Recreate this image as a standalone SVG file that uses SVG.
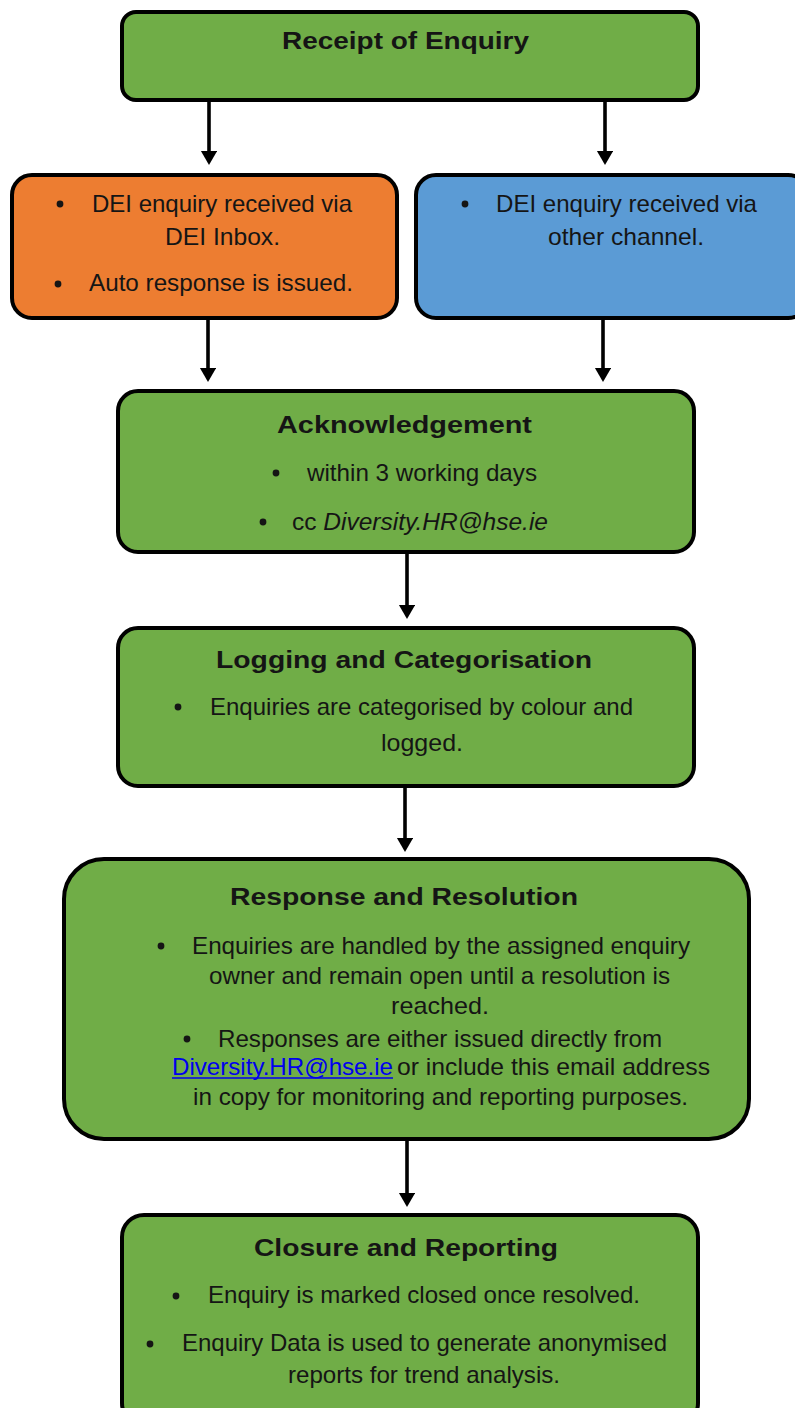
<svg xmlns="http://www.w3.org/2000/svg" width="795" height="1408" viewBox="0 0 795 1408">
<style>
.box{stroke:#000;stroke-width:4}
.g{fill:#70AD47}.o{fill:#ED7D31}.b{fill:#5B9BD5}
text{font-family:"Liberation Sans",Arial,sans-serif;fill:#151515;font-size:24px}
.t{font-weight:bold;font-size:23px}
.conn line{stroke:#000;stroke-width:3.6}
</style>
<defs>
<marker id="ah" markerWidth="5" markerHeight="5" refX="2.6" refY="2.3" orient="auto" markerUnits="strokeWidth">
<path d="M0,0 L4,2.3 L0,4.6 Z" fill="#000"/>
</marker>
</defs>
<rect width="795" height="1408" fill="#fff"/>
<g class="conn">
<line x1="209" y1="100" x2="209" y2="160" marker-end="url(#ah)"/>
<line x1="605" y1="100" x2="605" y2="160" marker-end="url(#ah)"/>
<line x1="208" y1="320" x2="208" y2="377" marker-end="url(#ah)"/>
<line x1="603" y1="320" x2="603" y2="377" marker-end="url(#ah)"/>
<line x1="407" y1="553" x2="407" y2="614" marker-end="url(#ah)"/>
<line x1="405" y1="787" x2="405" y2="847" marker-end="url(#ah)"/>
<line x1="407" y1="1140" x2="407" y2="1202" marker-end="url(#ah)"/>
</g>
<g id="receipt">
<rect class="box g" x="122" y="12" width="576" height="88" rx="14"/>
<text class="t" x="282" y="49" textLength="247" lengthAdjust="spacingAndGlyphs">Receipt of Enquiry</text>
</g>
<g id="inbox">
<rect class="box o" x="12" y="175" width="385" height="143" rx="20"/>
<circle cx="60" cy="204" r="3.4" fill="#151515"/>
<text x="92" y="212" textLength="260" lengthAdjust="spacingAndGlyphs">DEI enquiry received via</text>
<text x="165" y="245" textLength="115" lengthAdjust="spacingAndGlyphs">DEI Inbox.</text>
<circle cx="58" cy="284" r="3.4" fill="#151515"/>
<text x="89" y="291" textLength="264" lengthAdjust="spacingAndGlyphs">Auto response is issued.</text>
</g>
<g id="other">
<rect class="box b" x="416" y="175" width="392" height="143" rx="20"/>
<circle cx="465" cy="204" r="3.4" fill="#151515"/>
<text x="496" y="212" textLength="261" lengthAdjust="spacingAndGlyphs">DEI enquiry received via</text>
<text x="548" y="245" textLength="156" lengthAdjust="spacingAndGlyphs">other channel.</text>
</g>
<g id="ack">
<rect class="box g" x="118" y="391" width="576" height="161" rx="20"/>
<text class="t" x="277" y="433" textLength="255" lengthAdjust="spacingAndGlyphs">Acknowledgement</text>
<circle cx="276" cy="473" r="3.4" fill="#151515"/>
<text x="307" y="481" textLength="230" lengthAdjust="spacingAndGlyphs">within 3 working days</text>
<circle cx="263" cy="522" r="3.4" fill="#151515"/>
<text x="292" y="530" textLength="256" lengthAdjust="spacingAndGlyphs">cc <tspan font-style="italic">Diversity.HR@hse.ie</tspan></text>
</g>
<g id="logging">
<rect class="box g" x="118" y="628" width="576" height="158" rx="20"/>
<text class="t" x="216" y="668" textLength="376" lengthAdjust="spacingAndGlyphs">Logging and Categorisation</text>
<circle cx="178" cy="707" r="3.4" fill="#151515"/>
<text x="210" y="715" textLength="423" lengthAdjust="spacingAndGlyphs">Enquiries are categorised by colour and</text>
<text x="381" y="751" textLength="82" lengthAdjust="spacingAndGlyphs">logged.</text>
</g>
<g id="response">
<rect class="box g" x="64" y="859" width="685" height="280" rx="40"/>
<text class="t" x="230" y="905" textLength="348" lengthAdjust="spacingAndGlyphs">Response and Resolution</text>
<circle cx="161" cy="946" r="3.4" fill="#151515"/>
<text x="192" y="954" textLength="498" lengthAdjust="spacingAndGlyphs">Enquiries are handled by the assigned enquiry</text>
<text x="209" y="984" textLength="461" lengthAdjust="spacingAndGlyphs">owner and remain open until a resolution is</text>
<text x="391" y="1014" textLength="98" lengthAdjust="spacingAndGlyphs">reached.</text>
<circle cx="187" cy="1039" r="3.4" fill="#151515"/>
<text x="218" y="1047" textLength="444" lengthAdjust="spacingAndGlyphs">Responses are either issued directly from</text>
<text x="172" y="1075" textLength="221" lengthAdjust="spacingAndGlyphs" style="fill:#0000EE">Diversity.HR@hse.ie</text>
<line x1="172" y1="1078" x2="393" y2="1078" stroke="#0000EE" stroke-width="1.5"/>
<text x="397" y="1075" textLength="313" lengthAdjust="spacingAndGlyphs">or include this email address</text>
<text x="193" y="1105" textLength="495" lengthAdjust="spacingAndGlyphs">in copy for monitoring and reporting purposes.</text>
</g>
<g id="closure">
<rect class="box g" x="122" y="1215" width="576" height="210" rx="22"/>
<text class="t" x="254" y="1256" textLength="304" lengthAdjust="spacingAndGlyphs">Closure and Reporting</text>
<circle cx="176" cy="1296" r="3.4" fill="#151515"/>
<text x="208" y="1303" textLength="432" lengthAdjust="spacingAndGlyphs">Enquiry is marked closed once resolved.</text>
<circle cx="150" cy="1344" r="3.4" fill="#151515"/>
<text x="182" y="1351" textLength="485" lengthAdjust="spacingAndGlyphs">Enquiry Data is used to generate anonymised</text>
<text x="288" y="1383" textLength="272" lengthAdjust="spacingAndGlyphs">reports for trend analysis.</text>
</g>
</svg>
